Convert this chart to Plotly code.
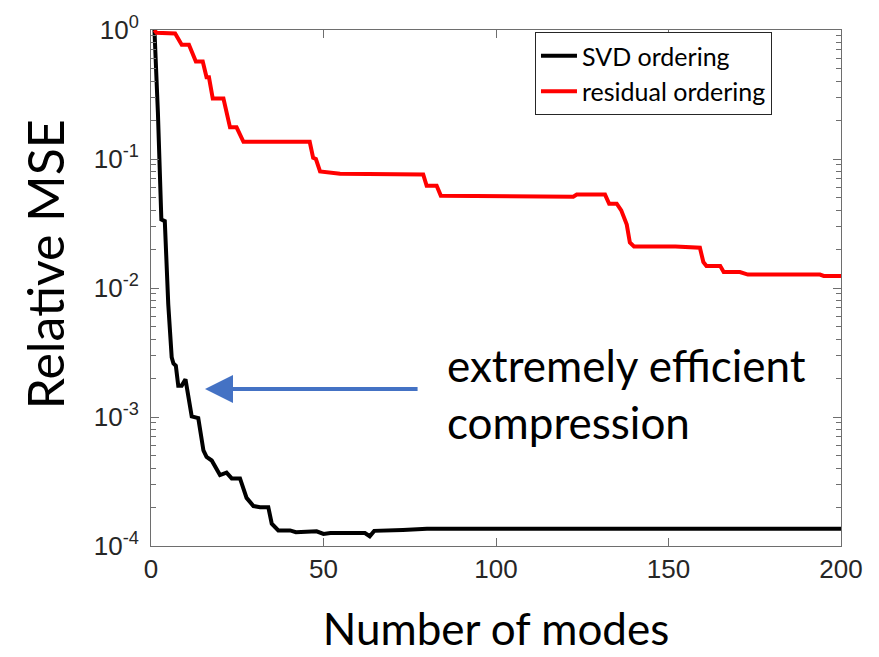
import plotly.graph_objects as go

# ---- data ----
svd_modes = [1, 2, 3, 4, 5, 6, 6.5, 7.2, 7.9, 8.9, 10, 10.8, 11.8, 13.7, 15.2, 16.1, 17.6,
             20, 21.9, 23.4, 25.8, 27.7, 29.7, 31.6, 34, 35, 36.9, 40.3, 42, 48, 50, 52,
             62, 63.4, 64.7, 73, 80, 200]
svd_mse = [1.0, 0.23, 0.034, 0.033, 0.0075, 0.0029, 0.0026, 0.0025, 0.00175, 0.00175,
           0.00196, 0.00139, 0.00101, 0.00098, 0.00055, 0.00049, 0.00046, 0.000355,
           0.00037, 0.000334, 0.000334, 0.000236, 0.000204, 0.0002, 0.0002, 0.000149,
           0.000132, 0.000132, 0.000128, 0.000130, 0.000124, 0.000126, 0.000126,
           0.000119, 0.000131, 0.000133, 0.000136, 0.000136]

res_modes = [1, 1.6, 7, 8.9, 11, 13, 15, 16.1, 16.8, 17.9, 21, 22.9, 24.8, 26.8, 46, 47,
             47.8, 49, 54.8, 78.9, 79.9, 82.8, 84, 122.4, 123.4, 131.6, 132.8, 135,
             136.3, 137.9, 138.8, 140, 152, 159.1, 160.1, 161, 165, 166, 170.7, 173,
             193.9, 195, 200]
res_mse = [1.0, 0.95, 0.94, 0.77, 0.77, 0.57, 0.57, 0.43, 0.43, 0.294, 0.294, 0.176,
           0.176, 0.136, 0.136, 0.102, 0.100, 0.080, 0.077, 0.076, 0.062, 0.062, 0.052,
           0.051, 0.053, 0.053, 0.045, 0.045, 0.040, 0.031, 0.0225, 0.021, 0.021,
           0.0205, 0.0159, 0.0148, 0.0148, 0.0133, 0.0133, 0.0127, 0.0127, 0.0124,
           0.0124]

x_ticks = [0, 50, 100, 150, 200]
y_ticks = [1, 0.1, 0.01, 0.001, 0.0001]
y_tick_text = ["10<sup>0</sup>", "10<sup>-1</sup>", "10<sup>-2</sup>",
               "10<sup>-3</sup>", "10<sup>-4</sup>"]
y_minor_ticks = [m * 10.0 ** e for e in (-4, -3, -2, -1) for m in range(2, 10)]

TICK_FONT = dict(family="Liberation Sans, Arial", size=26, color="#262626")
TEXT_FONT = "Lato, Open Sans, sans-serif"
AX_COLOR = "#6e6e6e"

fig = go.Figure()
fig.add_trace(go.Scatter(x=svd_modes, y=svd_mse, mode="lines", name="SVD ordering",
                         line=dict(color="black", width=4)))
fig.add_trace(go.Scatter(x=res_modes, y=res_mse, mode="lines", name="residual ordering",
                         line=dict(color="#ff0000", width=4)))

axis_common = dict(showline=True, linecolor=AX_COLOR, linewidth=1, mirror="ticks",
                   ticks="inside", ticklen=8, tickcolor=AX_COLOR, showgrid=False,
                   zeroline=False, tickfont=TICK_FONT)

fig.update_xaxes(range=[0, 200], tickvals=x_ticks,
                 title=dict(text="Number of modes", font=dict(family=TEXT_FONT, size=44, color="black"),
                            standoff=30),
                 **axis_common)
fig.update_yaxes(type="log", range=[-4, 0], tickvals=y_ticks, ticktext=y_tick_text,
                 ticklabelstandoff=6,
                 minor=dict(ticks="inside", ticklen=5, tickvals=y_minor_ticks,
                            tickcolor=AX_COLOR, tickwidth=1, showgrid=False),
                 **axis_common)

# y-axis title (placed like the reference, slightly above the plot centre)
fig.add_annotation(x=-0.1536, y=0.546, xref="paper", yref="paper", xanchor="center",
                   yanchor="middle", textangle=-90, showarrow=False, text="Relative MSE",
                   font=dict(family=TEXT_FONT, size=50, color="black"))

fig.add_annotation(x=15.65, y=-2.783, ax=77.7, ay=-2.783, xref="x", yref="y",
                   axref="x", ayref="y", text="", showarrow=True, arrowhead=2,
                   arrowsize=1.4, arrowwidth=4, arrowcolor="#4472C4")
fig.add_annotation(x=85.2, y=-2.82, xref="x", yref="y", xanchor="left", yanchor="middle",
                   align="left", showarrow=False, text="extremely efficient<br>compression",
                   font=dict(family=TEXT_FONT, size=44, color="black"))

fig.update_layout(
    width=879, height=657,
    margin=dict(l=151, r=38, t=22, b=106),
    paper_bgcolor="white", plot_bgcolor="white",
    showlegend=True,
    legend=dict(x=0.5565, y=0.996, xanchor="left", yanchor="top",
                bgcolor="white", bordercolor="#262626", borderwidth=1,
                font=dict(family=TEXT_FONT, size=25, color="black"),
                itemwidth=36, tracegroupgap=0),
)

fig.write_html("out.html")
